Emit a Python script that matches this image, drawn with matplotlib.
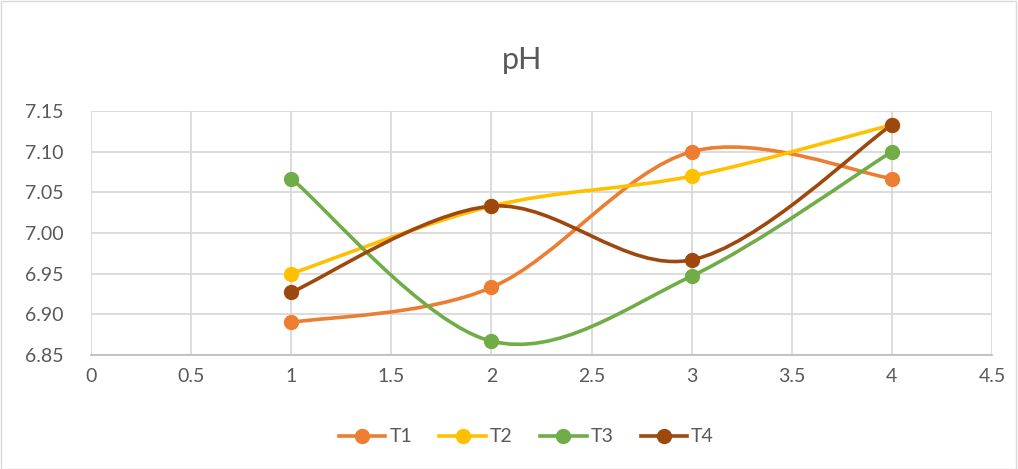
import numpy as np
from matplotlib import pyplot as plt
from matplotlib.path import Path
from matplotlib.patches import PathPatch, Rectangle
from matplotlib.lines import Line2D

plt.rcParams['font.family'] = ['Lato', 'DejaVu Sans']

days = [1, 2, 3, 4]
t1 = [6.890, 6.933, 7.100, 7.067]
t2 = [6.950, 7.033, 7.070, 7.133]
t3 = [7.067, 6.867, 6.947, 7.100]
t4 = [6.927, 7.033, 6.967, 7.133]
series = {'T1': t1, 'T2': t2, 'T3': t3, 'T4': t4}
colors = {'T1': '#ED7D31', 'T2': '#FFC000', 'T3': '#70AD47', 'T4': '#9E480E'}

x_ticks = np.arange(0, 4.51, 0.5)
y_ticks = np.arange(6.85, 7.151, 0.05)


def smooth_path(xs, ys):
    """Excel-style smoothed line: cubic bezier through the points."""
    pts = np.column_stack([xs, ys]).astype(float)
    n = len(pts)
    verts = [pts[0]]
    codes = [Path.MOVETO]
    for i in range(n - 1):
        p0 = pts[i - 1] if i > 0 else pts[i]
        p1 = pts[i]
        p2 = pts[i + 1]
        p3 = pts[i + 2] if i + 2 < n else pts[i + 1]
        c1 = p1 + (p2 - p0) / 6.0
        c2 = p2 - (p3 - p1) / 6.0
        verts += [c1, c2, p2]
        codes += [Path.CURVE4] * 3
    return Path(verts, codes)


fig = plt.figure(figsize=(10.18, 4.69), dpi=100)
fig.patches.append(Rectangle((0.001, 0.001), 0.997, 0.997, transform=fig.transFigure,
                             fill=False, edgecolor='#D9D9D9', linewidth=1))
ax = fig.add_axes([91 / 1018, 1 - 355 / 469, (992 - 91) / 1018, (355 - 111) / 469])

for name, vals in series.items():
    ax.add_patch(PathPatch(smooth_path(days, vals), facecolor='none',
                           edgecolor=colors[name], linewidth=2.6, zorder=3,
                           capstyle='round'))
    ax.plot(days, vals, linestyle='none', marker='o', markersize=10,
            color=colors[name], zorder=4)

ax.set_xlim(0, 4.5)
ax.set_ylim(6.85, 7.15)
ax.set_xticks(x_ticks)
ax.set_xticklabels([f'{v:g}' for v in x_ticks])
ax.set_yticks(y_ticks)
ax.set_yticklabels([f'{v:.2f}' for v in y_ticks])
ax.grid(True, color='#D9D9D9', linewidth=1.3)
ax.set_axisbelow(True)
for side in ['top', 'right', 'left']:
    ax.spines[side].set_visible(False)
ax.spines['bottom'].set_color('#BFBFBF')
ax.spines['bottom'].set_linewidth(1.3)
ax.tick_params(length=0, labelsize=14, colors='#595959', pad=9)
ax.tick_params(axis='y', pad=20)

fig.text(0.513, 1 - 60 / 469, 'pH', ha='center', va='center', fontsize=22, color='#595959')

handles = [Line2D([0], [0], color=colors[n], linewidth=2.6, marker='o', markersize=10)
           for n in series]
fig.legend(handles, list(series.keys()), loc='center', bbox_to_anchor=(0.517, 1 - 437 / 469),
           ncol=4, frameon=False, fontsize=14, labelcolor='#595959',
           handlelength=2.4, columnspacing=1.4, handletextpad=0.2)

plt.savefig('out.png', dpi=100)
plt.close()
